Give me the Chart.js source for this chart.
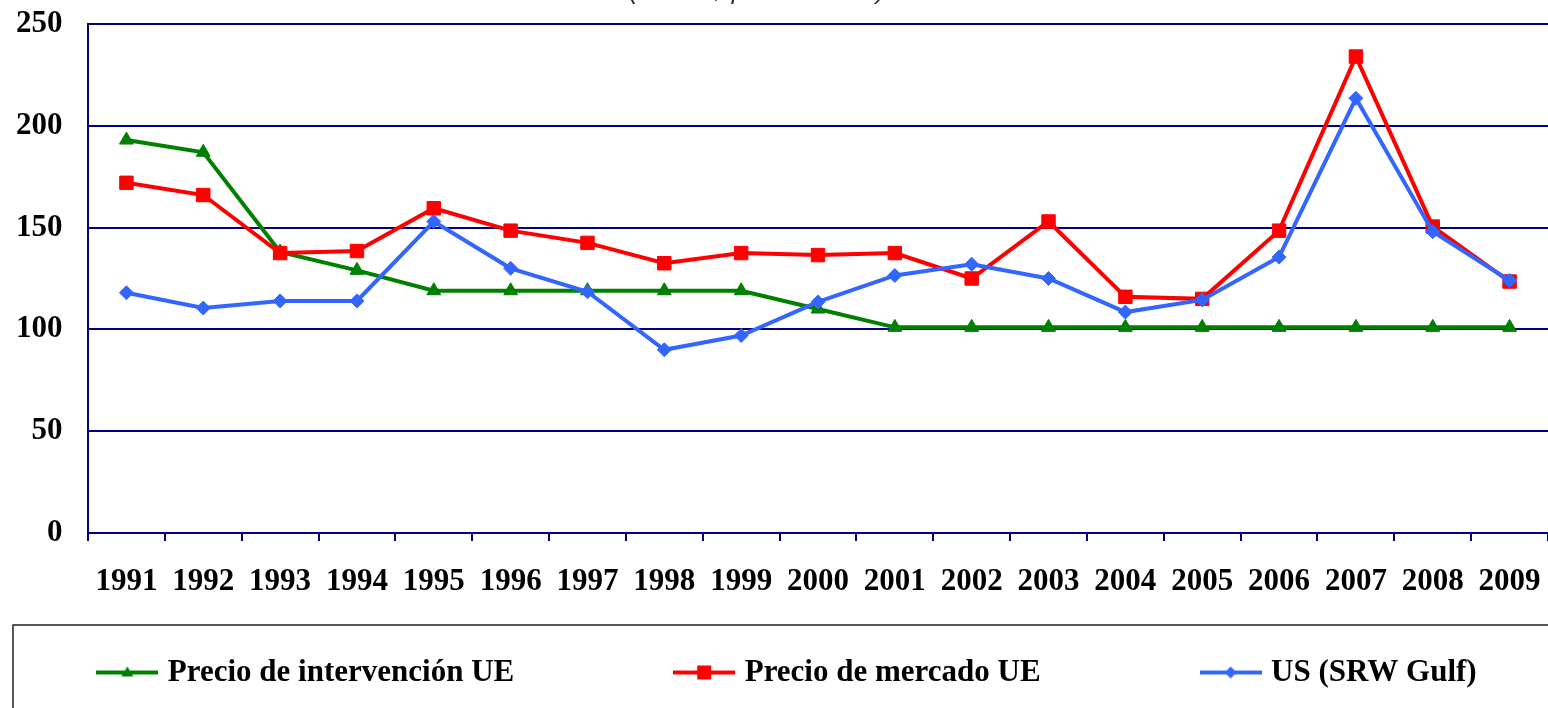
<!DOCTYPE html>
<html>
<head>
<meta charset="utf-8">
<script src="https://cdn.jsdelivr.net/npm/chart.js@4"></script>
<style>
    html, body { margin: 0; padding: 0; background: #fff; }
    #wrap { width: 1548px; height: 708px; }
</style>
</head>
<body>
<div id="wrap"><canvas id="priceChart" width="1548" height="708"></canvas></div>
<script>
// Data
const years = ['1991', '1992', '1993', '1994', '1995', '1996', '1997', '1998', '1999', '2000',
    '2001', '2002', '2003', '2004', '2005', '2006', '2007', '2008', '2009'];
const intervencionUE = [193, 187, 138, 129, 119, 119, 119, 119, 119, 110,
    101, 101, 101, 101, 101, 101, 101, 101, 101];
const mercadoUE = [172, 166, 137.5, 138.5, 159.5, 148.5, 142.5, 132.5, 137.5, 136.5,
    137.5, 125, 153, 116, 115, 148.5, 234, 150.5, 123.5];
const usGulf = [118, 110.5, 114, 114, 153, 130, 118.5, 90, 97, 113.5,
    126.5, 132, 125, 108.5, 114.5, 135.5, 213.5, 148, 124];
const yTicks = [0, 50, 100, 150, 200, 250];
const seriesNames = ['Precio de intervención UE', 'Precio de mercado UE', 'US (SRW Gulf)'];
const titleText = '(en US$ por tonelada)';

const GREEN = '#008000';
const RED = '#ff0000';
const BLUE = '#3366ff';
const NAVY = '#000080';
const SERIF = "'Liberation Serif', 'Times New Roman', serif";

// Legend symbol: short line with the marker in the middle
function legendSymbol(color, shape) {
    const c = document.createElement('canvas');
    c.width = 62;
    c.height = 20;
    const ctx = c.getContext('2d');
    ctx.strokeStyle = color;
    ctx.fillStyle = color;
    ctx.lineWidth = 4;
    ctx.beginPath();
    ctx.moveTo(0, 10);
    ctx.lineTo(62, 10);
    ctx.stroke();
    ctx.beginPath();
    if (shape === 'triangle') {
        ctx.moveTo(31, 4);
        ctx.lineTo(37, 14);
        ctx.lineTo(25, 14);
    } else if (shape === 'rect') {
        ctx.rect(24, 3, 14, 14);
    } else {
        ctx.moveTo(31, 4);
        ctx.lineTo(37, 10);
        ctx.lineTo(31, 16);
        ctx.lineTo(25, 10);
    }
    ctx.closePath();
    ctx.fill();
    return c;
}

const symbols = [
    legendSymbol(GREEN, 'triangle'),
    legendSymbol(RED, 'rect'),
    legendSymbol(BLUE, 'rectRot')
];
// trailing spaces spread the legend entries over the width
const legendGaps = [20, 20, 0];

// Subtitle cut by the top edge, and the box around the legend
const frameAndTitle = {
    id: 'frameAndTitle',
    afterLayout(chart) {
        chart.legend.left += 15;
    },
    afterDraw(chart) {
        const ctx = chart.ctx;
        ctx.save();
        ctx.strokeStyle = '#222';
        ctx.lineWidth = 1.5;
        ctx.strokeRect(13, chart.legend.top - 22, 1600, 200);
        ctx.fillStyle = '#333';
        ctx.font = "italic 26px 'Liberation Sans', Arial, sans-serif";
        ctx.textAlign = 'center';
        ctx.textBaseline = 'alphabetic';
        ctx.fillText(titleText, 757, -1);
        ctx.restore();
    }
};

new Chart(document.getElementById('priceChart').getContext('2d'), {
    type: 'line',
    data: {
        labels: years,
        datasets: [{
            label: seriesNames[0],
            data: intervencionUE,
            borderColor: GREEN,
            backgroundColor: GREEN,
            borderWidth: 4,
            pointStyle: 'triangle',
            pointRadius: 8,
            pointBorderWidth: 1,
            tension: 0,
            order: 3
        }, {
            label: seriesNames[1],
            data: mercadoUE,
            borderColor: RED,
            backgroundColor: RED,
            borderWidth: 4,
            pointStyle: 'rect',
            pointRadius: 9.5,
            pointBorderWidth: 1,
            tension: 0,
            order: 2
        }, {
            label: seriesNames[2],
            data: usGulf,
            borderColor: BLUE,
            backgroundColor: BLUE,
            borderWidth: 4,
            pointStyle: 'rectRot',
            pointRadius: 7,
            pointBorderWidth: 1,
            tension: 0,
            order: 1
        }]
    },
    options: {
        responsive: false,
        animation: false,
        layout: {
            autoPadding: false,
            padding: { left: 16, right: 0, top: 24, bottom: 10 }
        },
        plugins: {
            title: { display: false },
            legend: {
                position: 'bottom',
                labels: {
                    usePointStyle: true,
                    pointStyleWidth: 50,
                    padding: 10,
                    color: '#000',
                    font: { family: SERIF, size: 31, weight: 'bold' },
                    generateLabels(chart) {
                        return chart.data.datasets.map((ds, i) => ({
                            text: ds.label + ' '.repeat(legendGaps[i]),
                            pointStyle: symbols[i],
                            fillStyle: ds.borderColor,
                            strokeStyle: ds.borderColor,
                            lineWidth: 0,
                            fontColor: '#000',
                            hidden: false,
                            datasetIndex: i
                        }));
                    }
                }
            },
            tooltip: { enabled: false }
        },
        scales: {
            x: {
                offset: true,
                grid: {
                    offset: true,
                    drawOnChartArea: false,
                    color: NAVY,
                    lineWidth: 2,
                    tickLength: 8
                },
                border: { color: NAVY, width: 2 },
                ticks: {
                    color: '#000',
                    padding: 22,
                    maxRotation: 0,
                    autoSkip: false,
                    font: { family: SERIF, size: 31, weight: 'bold' }
                },
                afterFit(scale) {
                    scale.height = 114;
                    scale.paddingLeft = 0;
                    scale.paddingRight = 0;
                }
            },
            y: {
                min: 0,
                max: 250,
                afterBuildTicks(scale) {
                    scale.ticks = yTicks.map(v => ({ value: v }));
                },
                afterFit(scale) {
                    scale.width = 72;
                    scale.paddingTop = 0;
                    scale.paddingBottom = 0;
                },
                grid: {
                    color: NAVY,
                    lineWidth: 2,
                    drawTicks: false
                },
                border: { color: NAVY, width: 2 },
                ticks: {
                    color: '#000',
                    padding: 25.5,
                    font: { family: SERIF, size: 31, weight: 'bold' }
                }
            }
        }
    },
    plugins: [frameAndTitle]
});
</script>
</body>
</html>
